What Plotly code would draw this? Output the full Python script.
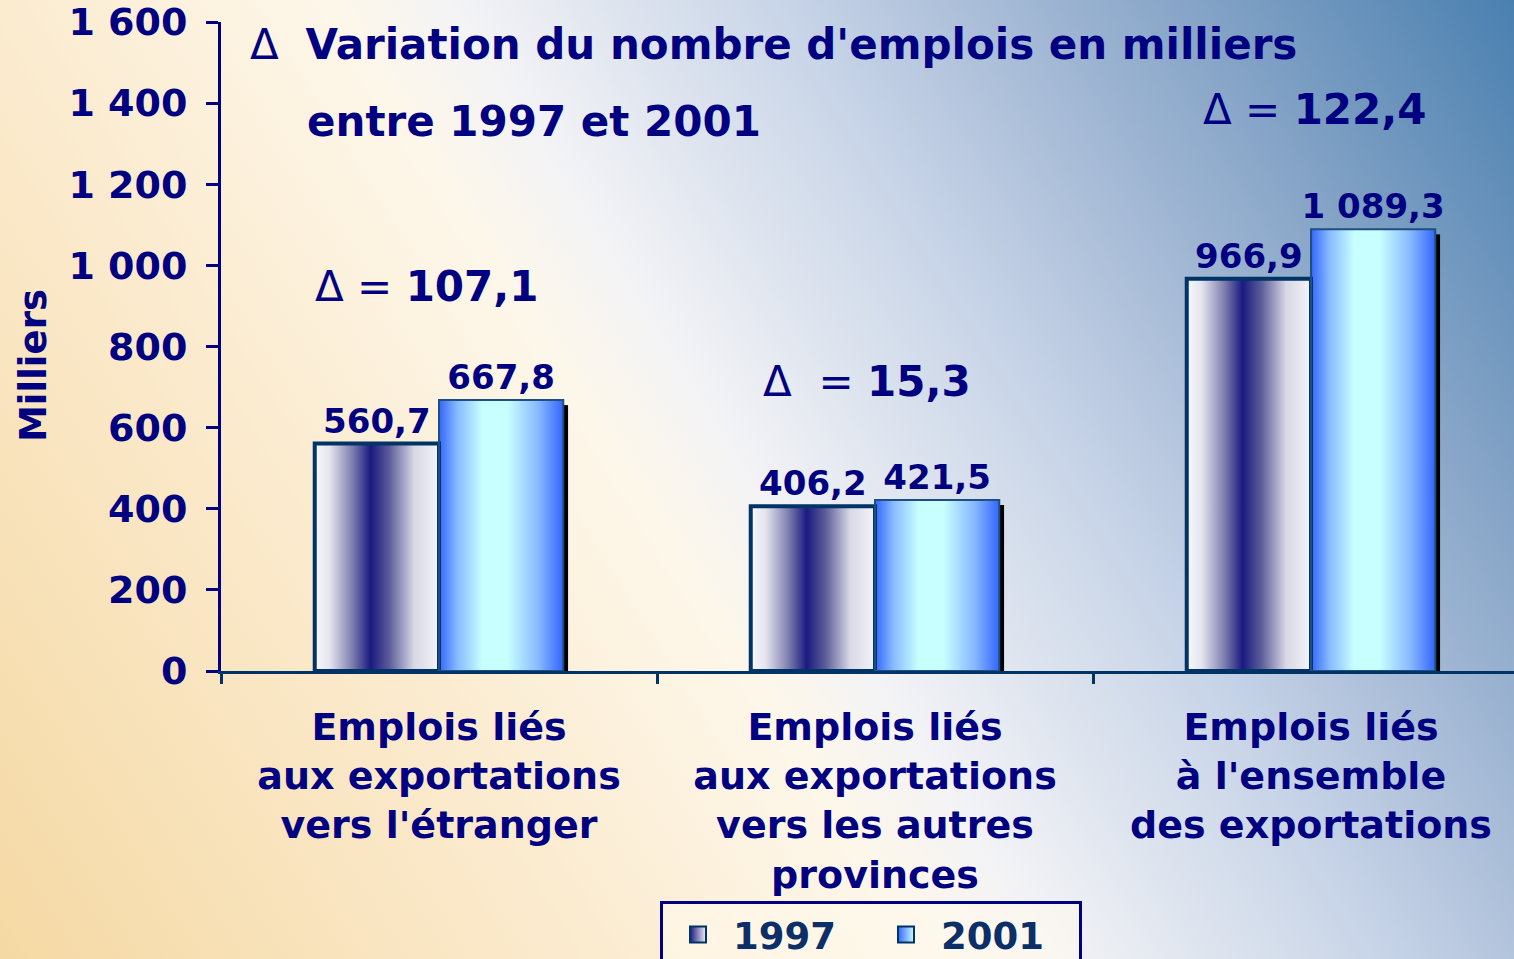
import base64
import plotly.graph_objects as go

# ---------------- data ----------------
categories = [
    "Emplois liés<br>aux exportations<br>vers l'étranger",
    "Emplois liés<br>aux exportations<br>vers les autres<br>provinces",
    "Emplois liés<br>à l'ensemble<br>des exportations",
]
series_names = ["1997", "2001"]
values_1997 = [560.7, 406.2, 966.9]
values_2001 = [667.8, 421.5, 1089.3]
y_tickvals = [0, 200, 400, 600, 800, 1000, 1200, 1400, 1600]
title_line1 = "Variation du nombre d'emplois en milliers"
title_line2 = "entre 1997 et 2001"
y_title = "Milliers"

# ---------------- style ----------------
FONT = "DejaVu Sans"
NAVY = "#000080"
DARK = "#003366"
BAR_W = 0.285
W, H = 1514, 959
M_L, M_R, M_T, M_B = 221, 0, 22, 288
PW, PH = W - M_L - M_R, H - M_T - M_B


def fr(v):
    s = f"{v:,.1f}"
    return s.replace(",", " ").replace(".", ",")


def svg_uri(svg):
    return "data:image/svg+xml;base64," + base64.b64encode(svg.encode()).decode()


def hgrad(stops):
    st = "".join(f'<stop offset="{o}" stop-color="{c}"/>' for o, c in stops)
    svg = ('<svg xmlns="http://www.w3.org/2000/svg" width="100" height="100" '
           'viewBox="0 0 100 100" preserveAspectRatio="none"><defs>'
           f'<linearGradient id="g" x1="0" y1="0" x2="1" y2="0">{st}</linearGradient>'
           '</defs><rect width="100" height="100" fill="url(#g)"/></svg>')
    return svg_uri(svg)


bg_stops = [(0, "#f5d9a4"), (0.28, "#fbebcf"), (0.44, "#fdf7ea"), (0.5, "#f3f3f6"),
            (0.57, "#dfe5ef"), (0.66, "#c6d3e7"), (0.72, "#b2c3dc"), (0.85, "#84a3c6"),
            (1.0, "#4a80b0")]
bg_st = "".join(f'<stop offset="{o}" stop-color="{c}"/>' for o, c in bg_stops)
bg_svg = (f'<svg xmlns="http://www.w3.org/2000/svg" width="{W}" height="{H}" '
          f'viewBox="0 0 {W} {H}" preserveAspectRatio="none"><defs>'
          f'<linearGradient id="bg" gradientUnits="userSpaceOnUse" x1="0" y1="{H}" x2="1519" y2="9">'
          f'{bg_st}</linearGradient></defs><rect width="{W}" height="{H}" fill="url(#bg)"/></svg>')

grad_1997 = hgrad([(0, "#f8f8fc"), (0.12, "#e4e4ee"), (0.3, "#8080b0"), (0.45, "#1a1a80"),
                   (0.6, "#5c5c98"), (0.8, "#d8d8e6"), (1, "#f4f4f8")])
grad_2001 = hgrad([(0, "#3366ff"), (0.15, "#88bbff"), (0.35, "#c8ffff"), (0.55, "#c8ffff"),
                   (0.8, "#88b8ff"), (1, "#3366ff")])
shadow = hgrad([(0, "#000000"), (1, "#000000")])

fig = go.Figure()

fig.add_trace(go.Bar(
    x=categories, y=values_1997, name=series_names[0], width=BAR_W, offset=-BAR_W,
    marker=dict(color="rgba(0,0,0,0)", line=dict(color=DARK, width=4)),
    text=[fr(v) for v in values_1997], textposition="outside", cliponaxis=False,
    constraintext="none",
    textfont=dict(family=FONT, size=34, color=NAVY, weight="bold"),
    showlegend=False,
))
fig.add_trace(go.Bar(
    x=categories, y=values_2001, name=series_names[1], width=BAR_W, offset=0,
    marker=dict(color="rgba(0,0,0,0)", line=dict(color="#1f4f80", width=2)),
    text=[fr(v) for v in values_2001], textposition="outside", cliponaxis=False,
    constraintext="none",
    textfont=dict(family=FONT, size=34, color=NAVY, weight="bold"),
    showlegend=False,
))
# legend entries (gradient swatches)
fig.add_trace(go.Scatter(
    x=[None], y=[None], mode="markers", name=series_names[0],
    marker=dict(symbol="square", size=16, color="#1a1a80",
                gradient=dict(type="horizontal", color="#f0f0f8"),
                line=dict(color=DARK, width=2)),
))
fig.add_trace(go.Scatter(
    x=[None], y=[None], mode="markers", name=series_names[1],
    marker=dict(symbol="square", size=16, color="#3366ff",
                gradient=dict(type="horizontal", color="#c8ffff"),
                line=dict(color=DARK, width=2)),
))

images = [dict(source=svg_uri(bg_svg), xref="paper", yref="paper",
               x=-M_L / PW, y=1 + M_T / PH, sizex=W / PW, sizey=H / PH,
               xanchor="left", yanchor="top", sizing="stretch", layer="below")]
px_x = 1 / 436.0
px_y = 1600 / PH
for i in range(len(categories)):
    v1, v2 = values_1997[i], values_2001[i]
    images.append(dict(source=shadow, xref="x", yref="y",
                       x=i + 5 * px_x, y=v2 - 5 * px_y, sizex=BAR_W, sizey=v2 - 5 * px_y,
                       xanchor="left", yanchor="top", sizing="stretch", layer="below"))
    images.append(dict(source=grad_1997, xref="x", yref="y",
                       x=i - BAR_W, y=v1, sizex=BAR_W, sizey=v1,
                       xanchor="left", yanchor="top", sizing="stretch", layer="below"))
    images.append(dict(source=grad_2001, xref="x", yref="y",
                       x=i, y=v2, sizex=BAR_W, sizey=v2,
                       xanchor="left", yanchor="top", sizing="stretch", layer="below"))


def px2paper(xp, yp):
    return (xp - M_L) / PW, (H - M_B - yp) / PH


annotations = []
ax_, ay_ = px2paper(248, 45)
annotations.append(dict(text=f"Δ  <b>{title_line1}</b>", x=ax_, y=ay_, xref="paper", yref="paper",
                        xanchor="left", yanchor="middle", showarrow=False,
                        font=dict(family=FONT, size=42, color=NAVY)))
ax_, ay_ = px2paper(305, 122)
annotations.append(dict(text=f"<b>{title_line2}</b>", x=ax_, y=ay_, xref="paper", yref="paper",
                        xanchor="left", yanchor="middle", showarrow=False,
                        font=dict(family=FONT, size=42, color=NAVY)))
delta_pos = [(313, 286, " = "), (761, 382, "  = "), (1201, 109, " = ")]
for i, (xp, yp, sep) in enumerate(delta_pos):
    d = values_2001[i] - values_1997[i]
    ax_, ay_ = px2paper(xp, yp)
    annotations.append(dict(text=f"Δ{sep}<b>{fr(d)}</b>", x=ax_, y=ay_, xref="paper", yref="paper",
                            xanchor="left", yanchor="middle", showarrow=False,
                            font=dict(family=FONT, size=42, color=NAVY)))
ax_, ay_ = px2paper(33, 366)
annotations.append(dict(text=f"<b>{y_title}</b>", x=ax_, y=ay_, xref="paper", yref="paper",
                        xanchor="center", yanchor="middle", textangle=-90, showarrow=False,
                        font=dict(family=FONT, size=37, color=NAVY)))

fig.update_layout(
    width=W, height=H,
    margin=dict(l=M_L, r=M_R, t=M_T, b=M_B, pad=0, autoexpand=False),
    paper_bgcolor="#f8e2b6", plot_bgcolor="rgba(0,0,0,0)",
    separators=", ",
    barmode="group",
    images=images,
    annotations=annotations,
    showlegend=True,
    legend=dict(orientation="h", x=(660 - M_L) / PW, xanchor="left",
                y=(H - M_B - 901) / PH, yanchor="top",
                bgcolor="rgba(255,250,236,0.55)", bordercolor=NAVY, borderwidth=3,
                font=dict(family=FONT, size=37, color="#0b2f66", weight="bold"),
                entrywidth=133, itemwidth=60, itemsizing="trace"),
    xaxis=dict(type="category", range=[-0.5, -0.5 + PW / 436.0], showline=True,
               linecolor=DARK, linewidth=3, ticks="outside", ticklen=10, tickwidth=3,
               tickcolor=DARK, tickson="boundaries", showgrid=False, zeroline=False,
               tickfont=dict(family=FONT, size=38, color=NAVY, weight="bold"),
               ticklabelstandoff=20),
    yaxis=dict(range=[0, 1600], tickvals=y_tickvals, tickformat=",d", showline=True,
               linecolor=NAVY, linewidth=3, ticks="outside", ticklen=12, tickwidth=3,
               tickcolor=NAVY, showgrid=False, zeroline=False,
               tickfont=dict(family=FONT, size=38, color=NAVY, weight="bold"),
               ticklabelstandoff=11),
)

page_css = ("var s=document.createElement('style');"
            "s.innerHTML='html,body{margin:0;padding:0;overflow:hidden;width:1514px;height:959px;}"
            "body>div{position:absolute;left:0;top:0;width:1514px;height:959px;}';"
            "document.head.appendChild(s);")
fig.write_html("out.html", post_script=page_css, config={"displayModeBar": False})
